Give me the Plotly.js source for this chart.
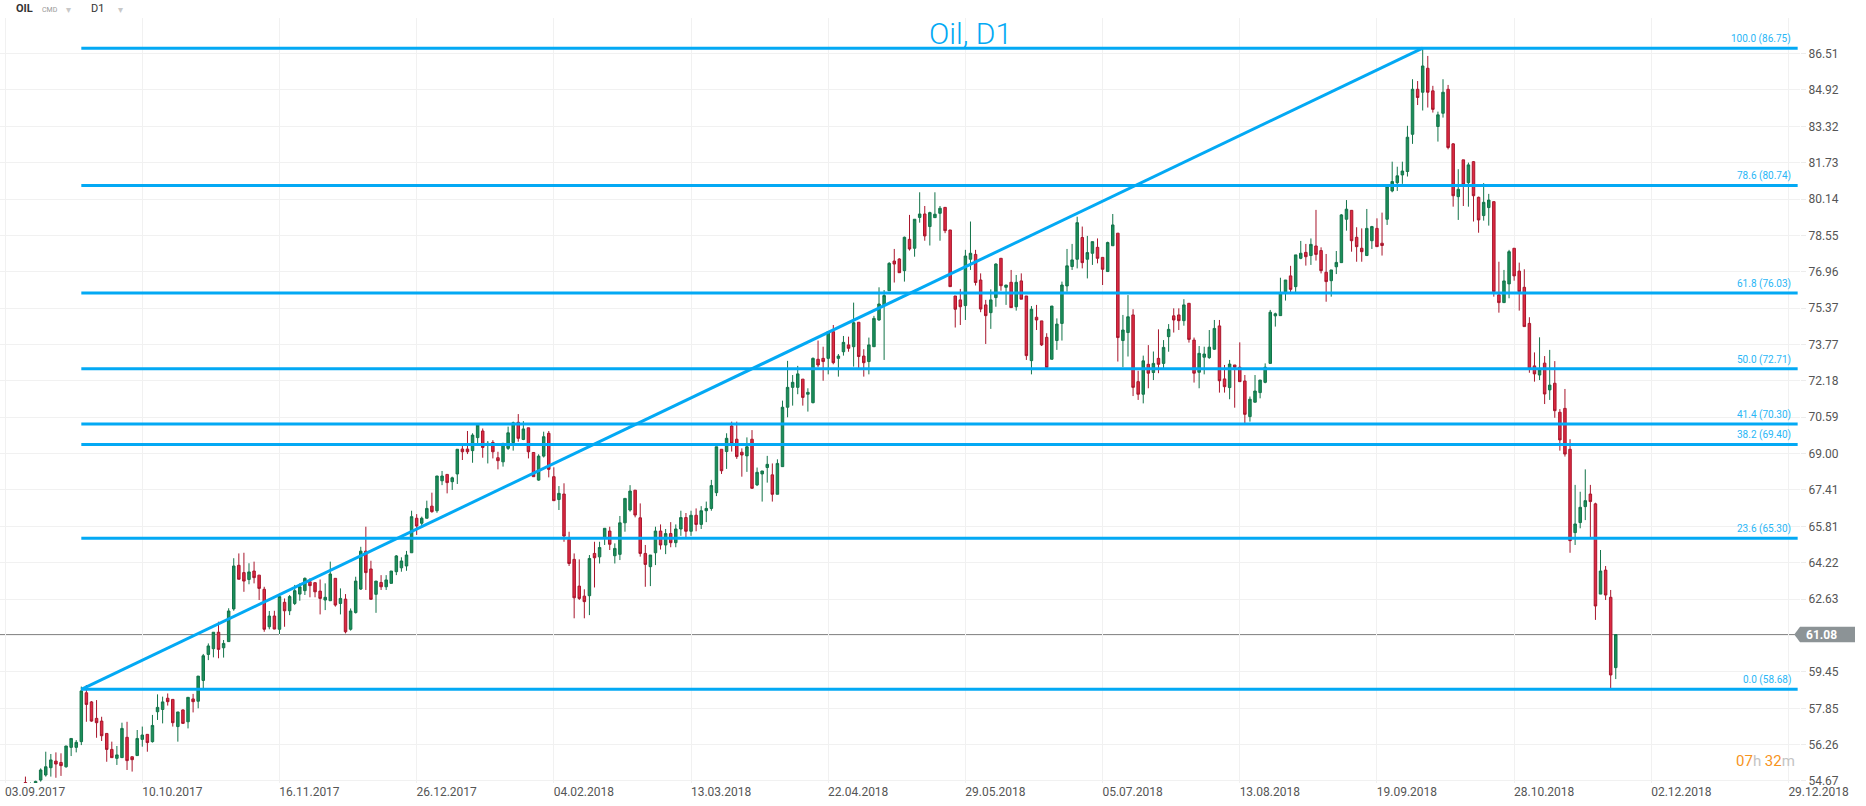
<!DOCTYPE html>
<html><head><meta charset="utf-8">
<script src="https://cdn.plot.ly/plotly-3.0.1.min.js"></script>
<style>html,body{margin:0;padding:0;background:#fff;overflow:hidden}#chart{width:1866px;height:806px}</style>
</head><body><div id="chart"></div>
<script>
// bar index of first candle (index 0 = 03.09.2017 gridline)
const firstBar = 4;
const opens = [
54.6,54.3,54.5,54.71,54.93,55.25,55.54,55.48,55.29,56.14,
56.14,56.39,58.53,58.13,57.41,57.29,56.75,56.05,55.66,55.69,
56.58,55.73,55.78,56.49,56.71,56.39,57.7,57.8,58.29,58.24,
57.05,57.78,57.26,58.26,58.16,59.07,60.21,60.46,61.18,60.5,
60.77,62.2,64.11,63.79,63.49,63.86,63.68,63.06,61.42,61.89,
61.31,62.49,62.12,62.44,62.85,63.0,63.39,63.35,62.98,62.59,
62.56,63.54,62.44,62.63,61.31,62.04,63.07,64.73,63.95,62.84,
63.36,63.17,63.32,63.83,64.0,64.08,64.66,66.17,65.95,66.17,
66.7,66.5,67.81,68.09,67.77,68.11,69.2,69.2,69.13,69.7,
69.99,69.38,69.49,68.82,68.64,69.23,69.48,70.37,69.62,70.13,
69.05,67.84,68.89,69.89,67.99,66.99,67.23,65.24,64.37,63.2,
62.76,62.78,64.63,64.48,65.29,65.61,64.53,64.59,65.97,66.53,
67.4,66.19,64.63,64.05,64.66,65.61,65.0,65.5,65.1,65.7,
66.2,65.6,66.3,65.9,66.5,66.6,67.29,69.19,69.09,70.21,
69.63,69.06,68.9,69.63,67.63,68.11,68.39,68.07,67.22,68.43,
71.03,71.9,71.9,72.26,71.6,71.23,73.13,73.17,73.17,74.34,
73.17,73.46,73.76,73.68,74.75,73.27,73.03,73.68,74.85,75.51,
76.13,77.43,77.52,77.01,78.38,77.99,79.34,79.49,78.94,79.33,
79.52,79.78,78.79,75.9,75.73,75.48,77.51,77.72,76.6,75.51,
75.17,75.83,77.55,76.28,76.5,75.43,76.56,75.9,73.07,74.97,
74.81,74.09,73.13,73.95,74.7,76.34,77.19,77.51,78.46,77.51,
77.77,78.03,77.59,76.97,78.1,78.65,73.95,74.3,75.07,72.15,
71.6,72.91,72.55,73.17,72.95,74.12,75.03,75.07,74.82,75.58,
73.97,72.56,73.22,73.2,73.57,74.59,72.27,71.89,72.88,72.78,
72.18,70.62,71.25,71.67,72.12,72.95,75.03,75.04,76.05,76.78,
76.31,77.55,77.81,77.67,78.09,77.89,76.94,76.57,77.18,77.36,
79.26,79.65,78.47,77.99,77.67,78.32,78.86,78.21,79.26,80.5,
80.86,81.2,81.35,82.98,84.95,84.82,85.87,84.88,83.32,83.9,
84.95,82.56,80.25,81.86,80.86,81.78,80.22,79.42,79.77,80.03,
75.95,75.61,76.43,77.99,76.99,76.28,74.7,72.84,72.44,72.96,
71.79,72.08,70.81,70.98,69.19,65.54,65.98,66.68,67.23,66.8,
62.85,63.9,62.71,59.63];
const highs = [
54.86,54.6,54.68,55.22,55.95,55.85,55.92,55.88,56.2,56.53,
56.46,58.8,58.87,58.17,58.21,57.48,56.75,56.39,56.2,57.22,
57.26,55.73,56.9,57.05,56.71,57.56,58.46,58.36,58.5,58.24,
57.69,57.8,58.33,58.48,59.26,60.23,60.69,61.18,61.64,60.84,
62.23,64.42,64.63,64.66,64.2,64.27,63.68,63.17,62.11,62.12,
62.88,62.66,62.81,63.25,63.32,63.58,63.54,63.35,63.49,63.32,
64.27,63.54,63.1,62.85,62.22,63.61,64.92,65.8,64.31,63.42,
63.68,63.68,63.86,64.56,64.46,64.74,66.5,66.35,66.24,66.94,
67.29,68.02,68.24,68.09,67.99,69.19,69.45,69.99,69.89,70.25,
70.1,69.55,69.59,69.08,69.45,70.18,70.4,70.73,70.42,70.13,
69.05,68.97,69.96,69.99,68.4,67.58,67.7,65.58,64.63,64.37,
63.06,64.56,65.14,65.14,65.73,65.8,65.07,66.27,67.04,67.62,
67.4,66.82,65.0,64.56,65.8,65.9,65.7,66.0,65.9,66.5,
66.4,66.5,66.6,66.7,66.9,67.85,69.3,69.19,69.89,70.4,
70.4,69.23,69.71,70.03,68.39,68.24,68.9,68.57,68.75,71.32,
73.06,72.44,72.84,72.26,71.86,73.21,73.95,73.68,74.37,74.63,
73.36,74.15,74.12,75.61,74.75,73.57,74.08,75.03,76.28,76.16,
77.38,77.96,77.55,78.5,79.45,79.26,80.44,79.84,79.59,80.44,
79.84,79.78,78.79,75.9,76.21,77.92,79.16,77.92,76.89,75.73,
76.19,77.33,77.55,76.38,77.04,76.82,76.89,75.9,75.46,75.51,
74.81,74.27,75.46,74.92,76.53,77.96,78.18,79.37,78.94,78.53,
78.28,78.42,77.59,78.28,79.49,78.65,75.07,75.94,75.32,72.63,
73.29,73.75,73.47,74.44,73.97,74.67,75.36,75.36,75.76,75.58,
74.08,73.71,73.68,74.41,74.85,74.85,72.88,73.1,72.88,73.87,
72.44,71.5,72.44,72.22,72.95,75.29,75.17,76.7,76.6,77.22,
77.7,78.31,78.18,78.42,79.67,78.03,77.74,77.04,77.87,79.49,
80.1,79.65,78.91,78.86,79.71,78.97,79.3,79.55,80.69,81.78,
81.56,81.78,83.35,85.39,85.31,86.75,86.41,85.1,83.97,85.39,
85.14,82.59,81.45,81.86,81.74,81.81,80.25,80.84,80.37,80.03,
77.4,77.04,77.92,77.99,77.36,77.07,74.97,73.43,74.09,73.27,
73.54,73.05,70.95,71.83,69.63,67.63,67.33,68.31,67.63,66.85,
64.78,64.08,63.03,61.09];
const lows = [
54.0,54.1,54.3,54.64,54.86,54.86,54.81,54.89,55.25,55.76,
55.92,56.24,57.26,57.26,56.56,56.42,55.51,55.69,55.37,55.69,
55.15,55.08,55.78,56.17,55.95,56.35,57.34,57.19,57.97,57.05,
56.39,57.19,56.97,57.67,57.85,58.68,59.96,60.08,60.04,60.07,
60.77,62.12,63.5,62.95,63.28,63.32,62.59,61.2,61.31,61.31,
61.1,61.42,61.93,62.37,62.56,62.81,62.71,62.71,61.96,62.15,
62.56,62.3,61.96,61.13,61.25,62.0,63.03,63.03,62.62,62.03,
63.03,63.03,63.32,63.68,63.83,63.87,64.66,65.44,65.83,66.17,
66.41,66.41,67.62,67.26,67.41,67.67,68.72,68.98,68.6,69.37,
68.82,68.57,68.79,68.31,68.43,69.16,69.13,69.52,69.59,68.79,
67.99,67.81,68.83,67.96,66.94,66.53,65.14,64.08,61.79,62.59,
61.79,61.93,63.14,64.19,65.0,64.78,64.19,64.34,65.58,66.46,
66.21,64.49,63.17,63.2,64.12,64.8,64.6,64.9,64.9,65.4,
65.3,65.4,65.6,65.7,66.0,66.5,67.14,68.11,68.33,69.09,
68.77,67.99,68.2,67.48,67.58,66.9,67.73,66.9,67.22,68.43,
70.59,71.1,71.6,71.1,70.84,71.2,72.78,72.19,72.47,72.91,
72.37,73.29,73.46,72.81,72.73,72.37,72.47,73.68,74.82,73.1,
76.13,76.49,76.92,76.53,77.89,77.62,79.11,78.32,78.11,79.33,
78.32,78.65,76.31,74.52,74.63,74.85,77.04,76.36,75.19,73.8,
74.46,75.43,76.13,75.51,75.39,75.26,75.76,73.1,72.47,74.41,
73.71,72.77,73.13,73.54,73.95,76.09,77.04,77.11,77.11,76.67,
77.26,77.33,76.38,76.97,78.1,73.03,72.78,73.25,71.52,71.35,
71.2,71.86,72.22,72.52,72.73,73.46,74.3,74.41,74.6,73.86,
72.11,71.86,72.47,73.15,73.54,71.67,71.67,71.38,71.01,72.15,
70.33,70.4,71.25,71.42,72.08,72.95,74.56,75.04,75.7,76.02,
76.02,77.51,77.23,77.26,77.45,76.89,75.65,75.87,76.86,77.36,
78.76,77.84,77.4,77.4,77.67,77.96,78.06,77.67,79.01,80.44,
80.5,80.81,81.13,82.56,84.26,84.02,84.15,83.93,82.66,83.71,
82.32,79.81,79.23,79.84,79.81,79.16,78.67,79.2,78.98,75.87,
75.17,75.61,75.8,76.57,75.26,74.56,72.54,72.15,72.22,71.17,
71.35,70.57,69.13,68.87,64.66,65.0,65.73,66.09,65.34,61.72,
62.85,62.59,58.68,59.13];
const closes = [
54.3,54.55,54.65,55.15,55.29,55.59,55.41,55.34,56.2,56.53,
56.36,58.61,58.02,57.29,57.22,56.65,56.05,55.69,55.81,56.97,
55.56,55.6,56.53,56.68,56.35,57.1,57.89,58.13,58.14,57.22,
57.69,57.19,58.33,58.14,59.26,60.15,60.58,61.18,60.43,60.69,
62.11,64.08,63.5,63.42,63.82,63.57,63.1,61.31,61.89,61.32,
62.74,62.12,62.74,63.0,63.17,63.54,63.22,62.95,62.66,62.71,
63.73,62.37,62.66,61.2,62.11,63.42,64.73,63.79,62.62,63.42,
63.17,63.47,63.86,64.52,64.3,64.56,66.24,65.83,66.17,66.6,
66.46,68.02,68.02,67.73,67.94,69.19,69.08,69.08,69.81,70.25,
69.27,69.45,69.08,68.69,69.45,69.91,70.35,69.67,70.08,69.08,
67.99,68.89,69.74,68.31,66.94,67.26,65.39,64.19,62.69,62.66,
62.52,64.41,64.44,64.89,65.73,65.03,64.85,65.97,67.04,67.36,
66.31,64.63,64.15,64.56,65.61,65.0,65.5,65.1,65.7,66.2,
65.6,66.3,65.9,66.5,66.6,67.6,69.3,68.25,69.67,69.45,
68.87,68.94,69.3,67.48,68.18,68.24,68.53,67.22,68.57,71.03,
71.9,72.12,72.49,71.46,71.68,73.17,72.88,73.03,74.34,72.98,
73.27,73.87,73.61,74.73,73.25,72.98,73.76,74.92,75.55,75.92,
77.33,77.3,76.92,78.47,77.96,79.26,79.49,78.53,79.55,79.48,
79.74,78.76,76.31,75.32,75.43,77.65,77.77,76.49,75.33,75.04,
75.73,77.3,76.35,76.38,75.39,76.5,75.76,73.29,75.32,74.85,
73.76,72.77,75.46,74.67,76.38,77.22,77.48,79.11,77.36,77.8,
78.28,77.55,77.07,78.24,79.01,74.08,74.41,74.99,71.9,71.6,
73.06,72.52,72.95,72.91,73.65,74.44,74.85,74.82,75.51,74.0,
72.52,73.39,73.36,73.66,74.48,72.19,71.93,72.92,72.78,72.15,
70.72,71.38,71.74,72.22,72.78,75.19,75.12,76.02,76.6,76.19,
77.7,77.77,77.62,78.16,77.72,77.01,76.53,77.04,77.37,79.45,
79.7,78.32,78.06,77.84,78.86,78.94,78.06,78.11,80.69,80.91,
81.16,81.37,82.85,84.95,84.59,85.97,84.82,84.07,83.83,84.82,
82.4,80.29,80.57,80.76,81.64,80.29,79.23,80.0,80.1,76.09,
75.61,76.56,77.84,76.78,76.09,74.56,72.73,72.49,72.66,71.61,
72.0,70.88,69.6,68.98,65.19,65.92,66.65,66.94,66.9,62.33,
63.86,62.81,59.31,61.08];

// x-axis labels (every 27 bars)
const dateTickBars = [0,27,54,81,108,135,162,189,216,243,270,297,324,351];
const dateTickLabels = ['03.09.2017','10.10.2017','16.11.2017','26.12.2017','04.02.2018','13.03.2018','22.04.2018','29.05.2018','05.07.2018','13.08.2018','19.09.2018','28.10.2018','02.12.2018','29.12.2018'];
// price axis labels
const priceTicks = [86.51,84.92,83.32,81.73,80.14,78.55,76.96,75.37,73.77,72.18,70.59,69.00,67.41,65.81,64.22,62.63,61.04,59.45,57.85,56.26,54.67];
const priceTickText = ['86.51','84.92','83.32','81.73','80.14','78.55','76.96','75.37','73.77','72.18','70.59','69.00','67.41','65.81','64.22','62.63','','59.45','57.85','56.26','54.67'];
// Fibonacci retracement
const fibPercents = ['100.0','78.6','61.8','50.0','41.4','38.2','23.6','0.0'];
const fibPrices = [86.75,80.74,76.03,72.71,70.30,69.40,65.30,58.68];
const fibStartBar = 15, fibEndBar = 279;
const lastPrice = 61.08;

const xs = opens.map((_, k) => firstBar + k);
const BLUE = '#03a9f4';
const xEnd = 352.8;

const shapes = [];
const annotations = [];
fibPrices.forEach((p, k) => {
  shapes.push({type:'line', xref:'x', yref:'y', x0:fibStartBar, x1:xEnd, y0:p, y1:p, line:{color:BLUE, width:3}});
  annotations.push({xref:'x', yref:'y', x:xEnd-1.0, y:p, xanchor:'right', yanchor:'bottom', yshift:1,
    text: fibPercents[k] + ' (' + p.toFixed(2) + ')', showarrow:false, font:{family:'Roboto', size:10, color:'#29b6f6'}});
});
shapes.push({type:'line', xref:'x', yref:'y', x0:fibStartBar, x1:fibEndBar, y0:fibPrices[7], y1:fibPrices[0], line:{color:BLUE, width:3}});
shapes.push({type:'line', xref:'paper', yref:'y', x0:0, x1:1, y0:lastPrice, y1:lastPrice, line:{color:'#8a8a8a', width:1}, layer:'below'});
// last price tag
const dy = 0.341;
shapes.push({type:'path', xref:'paper', yref:'y',
  path:`M 0.99683,${lastPrice} L 1.0,${lastPrice+dy} L 1.03056,${lastPrice+dy} L 1.03056,${lastPrice-dy} L 1.0,${lastPrice-dy} Z`,
  fillcolor:'#8c9396', line:{width:0}});
annotations.push({xref:'paper', yref:'y', x:1.0117, y:lastPrice, xanchor:'center', yanchor:'middle', showarrow:false,
  text:'<b>' + lastPrice.toFixed(2) + '</b>', font:{family:'Roboto', size:12, color:'#ffffff'}});
// title
annotations.push({xref:'paper', yref:'paper', x:970/1800, y:1, yshift:-15, xanchor:'center', yanchor:'middle', showarrow:false,
  text:'Oil, D1', font:{family:'Roboto', size:30, color:BLUE, weight:300}});
// header
annotations.push({xref:'paper', yref:'paper', x:14/1800, y:1, yshift:1, xanchor:'left', yanchor:'bottom', showarrow:false,
  text:'<b>OIL</b>', font:{family:'Roboto', size:11, color:'#333'}});
annotations.push({xref:'paper', yref:'paper', x:40/1800, y:1, yshift:2, xanchor:'left', yanchor:'bottom', showarrow:false,
  text:'CMD', font:{family:'Roboto', size:7, color:'#999'}});
annotations.push({xref:'paper', yref:'paper', x:64/1800, y:1, yshift:1, xanchor:'left', yanchor:'bottom', showarrow:false,
  text:'▾', font:{family:'DejaVu Sans', size:10, color:'#c8c8c8'}});
annotations.push({xref:'paper', yref:'paper', x:89/1800, y:1, yshift:1, xanchor:'left', yanchor:'bottom', showarrow:false,
  text:'D1', font:{family:'Roboto', size:11, color:'#333'}});
annotations.push({xref:'paper', yref:'paper', x:116/1800, y:1, yshift:1, xanchor:'left', yanchor:'bottom', showarrow:false,
  text:'▾', font:{family:'DejaVu Sans', size:10, color:'#c8c8c8'}});
// countdown
annotations.push({xref:'paper', yref:'paper', x:1797/1800, y:(783-761)/765, xanchor:'right', yanchor:'middle', showarrow:false,
  text:'<span style="color:#f7941d">07</span><span style="color:#c4c4c4">h </span><span style="color:#f7941d">32</span><span style="color:#c4c4c4">m</span>',
  font:{family:'Roboto', size:15, color:'#f7941d'}});

const trace = {
  type:'candlestick', x:xs, open:opens, high:highs, low:lows, close:closes,
  increasing:{line:{color:'#13744a', width:1}, fillcolor:'#1b8f5a'},
  decreasing:{line:{color:'#a8162c', width:1}, fillcolor:'#dd2a42'},
  whiskerwidth:0, hoverinfo:'skip', showlegend:false
};

const layout = {
  width:1866, height:806,
  margin:{l:0, r:66, t:18, b:23},
  paper_bgcolor:'#ffffff', plot_bgcolor:'#ffffff',
  showlegend:false,
  xaxis:{range:[-1.004, 353.26], tickmode:'array', tickvals:dateTickBars, ticktext:dateTickLabels,
    showgrid:true, gridcolor:'#f1f1f1', gridwidth:1, zeroline:false, showline:false, ticks:'',
    tickfont:{family:'Roboto', size:12, color:'#555'}, ticklabelshift:30, rangeslider:{visible:false}, fixedrange:true},
  yaxis:{side:'right', range:[54.58, 88.07], tickmode:'array', tickvals:priceTicks, ticktext:priceTickText,
    showgrid:true, gridcolor:'#f1f1f1', gridwidth:1, zeroline:false, showline:false, ticks:'outside', ticklen:5, tickcolor:'#ececec',
    tickfont:{family:'Roboto', size:12, color:'#555'}, fixedrange:true},
  shapes:shapes, annotations:annotations
};

Plotly.newPlot('chart', [trace], layout, {displayModeBar:false, staticPlot:true});
</script></body></html>
